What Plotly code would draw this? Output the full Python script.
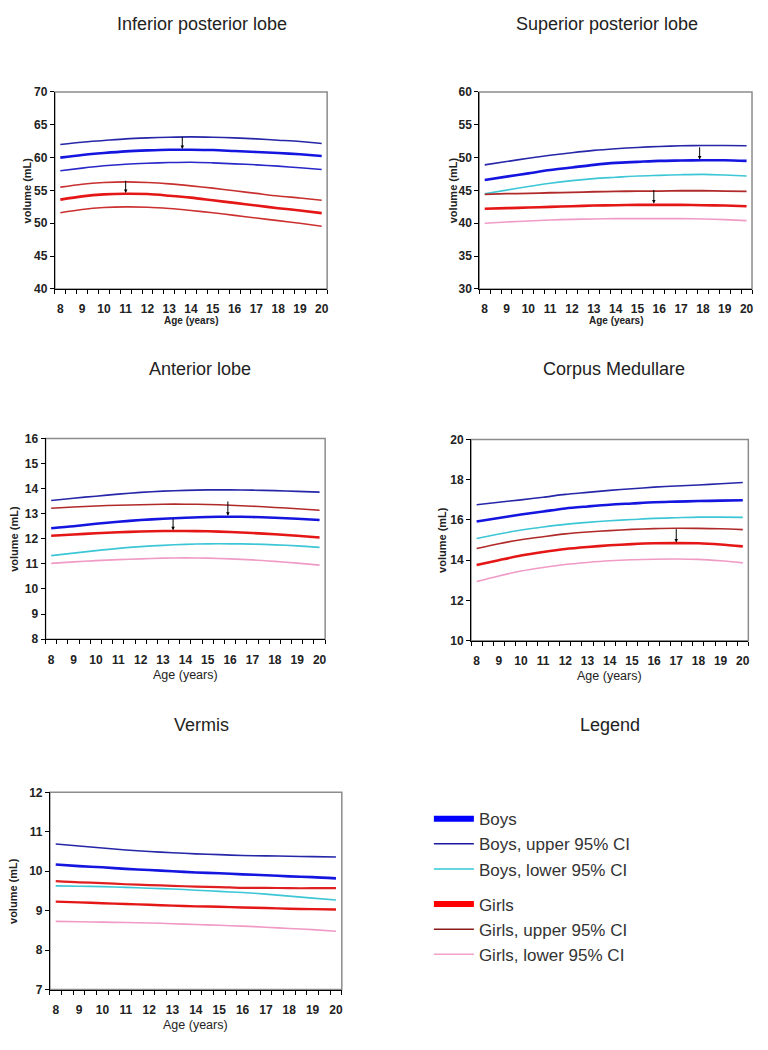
import plotly.graph_objects as go

# ---------------- data ----------------
AGES = [8, 9, 10, 11, 12, 13, 14, 15, 16, 17, 18, 19, 20]

TITLES = ["Inferior posterior lobe", "Superior posterior lobe", "Anterior lobe",
          "Corpus Medullare", "Vermis"]

# Inferior posterior lobe
ipl_boys = [60.0, 60.4, 60.7, 60.95, 61.1, 61.2, 61.2, 61.15, 61.0, 60.85, 60.7, 60.5, 60.25]
ipl_boys_up = [62.0, 62.35, 62.6, 62.85, 63.0, 63.1, 63.15, 63.1, 63.0, 62.85, 62.65, 62.45, 62.15]
ipl_boys_lo = [58.0, 58.4, 58.75, 59.0, 59.15, 59.25, 59.3, 59.2, 59.05, 58.9, 58.7, 58.45, 58.2]
ipl_girls = [53.6, 54.1, 54.4, 54.5, 54.45, 54.2, 53.9, 53.5, 53.1, 52.7, 52.3, 51.95, 51.55]
ipl_girls_up = [55.5, 55.95, 56.2, 56.3, 56.2, 56.0, 55.7, 55.35, 54.95, 54.55, 54.15, 53.85, 53.5]
ipl_girls_lo = [51.6, 52.1, 52.4, 52.5, 52.45, 52.25, 51.95, 51.6, 51.2, 50.8, 50.4, 50.0, 49.55]

# Superior posterior lobe
spl_boys = [46.6, 47.1, 47.6, 48.1, 48.5, 48.9, 49.2, 49.35, 49.5, 49.55, 49.6, 49.6, 49.5]
spl_boys_up = [48.9, 49.4, 49.9, 50.35, 50.75, 51.1, 51.35, 51.55, 51.7, 51.8, 51.85, 51.85, 51.8]
spl_boys_lo = [44.5, 45.05, 45.6, 46.1, 46.5, 46.8, 47.0, 47.2, 47.3, 47.4, 47.45, 47.35, 47.2]
spl_girls = [42.2, 42.3, 42.4, 42.5, 42.6, 42.7, 42.75, 42.8, 42.8, 42.8, 42.75, 42.7, 42.6]
spl_girls_up = [44.4, 44.5, 44.55, 44.65, 44.7, 44.8, 44.85, 44.9, 44.9, 44.95, 44.95, 44.9, 44.85]
spl_girls_lo = [40.0, 40.2, 40.35, 40.5, 40.6, 40.65, 40.7, 40.7, 40.7, 40.7, 40.65, 40.55, 40.4]

# Anterior lobe
al_boys = [12.42, 12.5, 12.6, 12.68, 12.75, 12.8, 12.84, 12.87, 12.88, 12.87, 12.84, 12.8, 12.75]
al_boys_up = [13.53, 13.62, 13.7, 13.78, 13.85, 13.9, 13.93, 13.95, 13.95, 13.94, 13.92, 13.89, 13.86]
al_boys_lo = [11.33, 11.43, 11.53, 11.62, 11.69, 11.74, 11.78, 11.8, 11.8, 11.79, 11.76, 11.72, 11.66]
al_girls = [12.12, 12.17, 12.22, 12.26, 12.29, 12.31, 12.31, 12.3, 12.27, 12.23, 12.18, 12.12, 12.05]
al_girls_up = [13.22, 13.27, 13.31, 13.34, 13.36, 13.38, 13.38, 13.37, 13.34, 13.3, 13.25, 13.2, 13.14]
al_girls_lo = [11.02, 11.08, 11.13, 11.17, 11.2, 11.23, 11.24, 11.23, 11.2, 11.16, 11.1, 11.03, 10.95]

# Corpus Medullare
cm_boys = [15.92, 16.1, 16.27, 16.42, 16.57, 16.67, 16.76, 16.82, 16.88, 16.91, 16.94, 16.96, 16.98]
cm_boys_up = [16.76, 16.88, 17.0, 17.13, 17.27, 17.37, 17.47, 17.55, 17.63, 17.69, 17.74, 17.8, 17.86]
cm_boys_lo = [15.08, 15.3, 15.5, 15.65, 15.78, 15.88, 15.96, 16.02, 16.08, 16.11, 16.14, 16.14, 16.13]
cm_girls = [13.76, 14.0, 14.23, 14.41, 14.56, 14.66, 14.74, 14.8, 14.84, 14.85, 14.84, 14.78, 14.69]
cm_girls_up = [14.58, 14.82, 15.02, 15.17, 15.31, 15.4, 15.47, 15.53, 15.57, 15.59, 15.58, 15.56, 15.52]
cm_girls_lo = [12.94, 13.22, 13.46, 13.64, 13.79, 13.89, 13.97, 14.02, 14.05, 14.06, 14.04, 13.97, 13.87]

# Vermis
v_boys = [10.17, 10.13, 10.1, 10.06, 10.03, 10.0, 9.97, 9.95, 9.92, 9.9, 9.87, 9.85, 9.82]
v_boys_up = [10.69, 10.64, 10.59, 10.54, 10.5, 10.47, 10.44, 10.42, 10.4, 10.39, 10.38, 10.37, 10.36]
v_boys_lo = [9.63, 9.62, 9.61, 9.59, 9.57, 9.55, 9.52, 9.49, 9.46, 9.42, 9.37, 9.32, 9.27]
v_girls = [9.23, 9.21, 9.19, 9.17, 9.15, 9.13, 9.11, 9.1, 9.08, 9.07, 9.05, 9.04, 9.03]
v_girls_up = [9.75, 9.72, 9.7, 9.67, 9.65, 9.63, 9.61, 9.6, 9.58, 9.58, 9.57, 9.57, 9.57]
v_girls_lo = [8.73, 8.72, 8.71, 8.7, 8.69, 8.67, 8.65, 8.63, 8.61, 8.58, 8.55, 8.52, 8.48]

Y_RANGES = [(40, 70), (30, 60), (8, 16), (10, 20), (7, 12)]
Y_DTICK = [5, 5, 1, 2, 1]

# arrows marking the age of peak volume: (panel, age, from, to)
ARROWS = [(0, 13.6, 63.4, 61.3), (0, 11.0, 56.7, 54.6),
          (1, 17.85, 51.8, 49.7), (1, 15.75, 45.3, 43.0),
          (2, 15.9, 13.55, 12.92), (2, 13.45, 12.85, 12.34),
          (3, 17.0, 15.62, 14.88)]

LEGEND_NAMES = ["Boys", "Boys, upper 95% CI", "Boys, lower 95% CI",
                "Girls", "Girls, upper 95% CI", "Girls, lower 95% CI"]

# ---------------- styles ----------------
C_BM, C_BU, C_BL = "#1515E0", "#2626A8", "#3CC6D6"
C_GM, C_GU, C_GL = "#E41616", "#B02A2A", "#F09AC6"

PANELS = [
    [(ipl_boys_up, C_BU, 1.6), (ipl_boys, C_BM, 2.6), (ipl_boys_lo, "#2828C8", 1.6),
     (ipl_girls_up, "#C83030", 1.6), (ipl_girls, C_GM, 2.6), (ipl_girls_lo, "#CC3030", 1.6)],
    [(spl_boys_up, C_BU, 1.6), (spl_boys, C_BM, 2.6), (spl_boys_lo, C_BL, 1.6),
     (spl_girls_up, C_GU, 1.8), (spl_girls, C_GM, 2.6), (spl_girls_lo, C_GL, 1.6)],
    [(al_boys_up, C_BU, 1.6), (al_boys, C_BM, 2.6), (al_boys_lo, C_BL, 1.6),
     (al_girls_up, C_GU, 1.6), (al_girls, C_GM, 2.6), (al_girls_lo, C_GL, 1.6)],
    [(cm_boys_up, C_BU, 1.6), (cm_boys, C_BM, 2.6), (cm_boys_lo, C_BL, 1.6),
     (cm_girls_up, C_GU, 1.6), (cm_girls, C_GM, 2.6), (cm_girls_lo, C_GL, 1.6)],
    [(v_boys_up, C_BU, 1.6), (v_boys, C_BM, 2.6), (v_boys_lo, C_BL, 1.6),
     (v_girls_up, "#E02020", 2.2), (v_girls, C_GM, 2.4), (v_girls_lo, C_GL, 1.6)],
]

# The page has an 8px body margin; keep the figure inside the window (no scrollbars)
OFF = 8
W, H = 752, 1034


def px(p):
    return (p - OFF) / W


def py(p):
    return 1 - (p - OFF) / H


# plot areas in page pixels: left, right, top, bottom
BOXES = [(55, 328, 86, 285.7), (480.5, 754, 86, 285.7), (45.7, 326, 437.3, 640.7),
         (472.3, 750.3, 438.3, 642.3), (50, 342.7, 796, 996)]
TITLE_POS = [(203, 17), (609, 17), (201, 367), (616, 367), (202, 728)]
YTITLE_X = [27, 455, 14, 443, 13]

FONT = "Liberation Sans, Arial, sans-serif"

fig = go.Figure()
annotations = []
shapes = []

for i, (series, box) in enumerate(zip(PANELS, BOXES)):
    n = "" if i == 0 else str(i + 1)
    xa, ya = "x" + n, "y" + n
    for vals, col, wd in series:
        fig.add_trace(go.Scatter(x=AGES, y=vals, mode="lines", xaxis=xa, yaxis=ya,
                                 line=dict(color=col, width=wd, shape="spline", smoothing=0.8),
                                 showlegend=False, hoverinfo="skip"))
    l, r, t, b = box
    fig.layout["xaxis" + n] = dict(
        domain=[px(l), px(r)], range=[7.75, 20.25], anchor=ya,
        tickvals=AGES, ticks="", showline=True, linecolor="black", linewidth=1,
        showgrid=False, zeroline=False, ticklabelstandoff=9,
        tickfont=dict(family=FONT, size=12, color="#222", weight="bold"),
        minor=dict(ticks="outside", tick0=7.75, dtick=0.5, ticklen=4,
                   tickcolor="black", tickwidth=1, showgrid=False))
    y0, y1 = Y_RANGES[i]
    fig.layout["yaxis" + n] = dict(
        domain=[py(b), py(t)], range=[y0, y1], anchor=xa, dtick=Y_DTICK[i],
        ticks="outside", ticklen=4, tickcolor="black", showline=True, linecolor="black",
        linewidth=1, showgrid=False, zeroline=False,
        tickfont=dict(family=FONT, size=12, color="#222", weight="bold"))
    shapes.append(dict(type="rect", xref=xa + " domain", yref=ya + " domain",
                       x0=0, x1=1, y0=0, y1=1, layer="below",
                       line=dict(color="#8c8c8c", width=1.5)))
    # panel title
    tx, ty = TITLE_POS[i]
    annotations.append(dict(text=TITLES[i], x=px(tx), y=py(ty), xref="paper", yref="paper",
                            xanchor="center", yanchor="middle", showarrow=False,
                            font=dict(family=FONT, size=18, color="#222")))
    # axis titles
    cx = (l + r) / 2
    if i < 2:
        annotations.append(dict(text="Age (years)", x=px(cx), y=py(b + 32), xref="paper",
                                yref="paper", xanchor="center", yanchor="middle",
                                showarrow=False,
                                font=dict(family=FONT, size=10, color="#222", weight="bold")))
    else:
        annotations.append(dict(text="Age (years)", x=px(cx), y=py(b + 36), xref="paper",
                                yref="paper", xanchor="center", yanchor="middle",
                                showarrow=False,
                                font=dict(family=FONT, size=12.5, color="#222")))
    annotations.append(dict(text="volume (mL)", x=px(YTITLE_X[i]), y=py((t + b) / 2),
                            xref="paper", yref="paper", xanchor="center", yanchor="middle",
                            showarrow=False, textangle=-90,
                            font=dict(family=FONT, size=11, color="#222", weight="bold")))

for p, ax_x, y_from, y_to in ARROWS:
    n = "" if p == 0 else str(p + 1)
    annotations.append(dict(x=ax_x, y=y_to, ax=ax_x, ay=y_from, xref="x" + n, yref="y" + n,
                            axref="x" + n, ayref="y" + n, text="", showarrow=True,
                            arrowhead=2, arrowsize=0.7, arrowwidth=1, arrowcolor="black"))

annotations.append(dict(text="Legend", x=px(612), y=py(728), xref="paper", yref="paper",
                        xanchor="center", yanchor="middle", showarrow=False,
                        font=dict(family=FONT, size=18, color="#222")))

# legend entries
LEG_STYLE = [("#0000FF", 6), ("#1A1AA0", 1.5), ("#30C8D8", 1.5),
             ("#FF0000", 6), ("#8B1A1A", 1.5), ("#F4A0C8", 1.5)]
for k, (name, (col, wd)) in enumerate(zip(LEGEND_NAMES, LEG_STYLE)):
    fig.add_trace(go.Scatter(x=[None], y=[None], mode="lines", name=name,
                             legendgroup="boys" if k < 3 else "girls",
                             line=dict(color=col, width=wd), showlegend=True))

fig.update_layout(
    width=W, height=H, margin=dict(l=0, r=0, t=0, b=0),
    paper_bgcolor="white", plot_bgcolor="white",
    annotations=annotations, shapes=shapes,
    showlegend=True,
    legend=dict(x=px(430), y=py(805), xanchor="left", yanchor="top",
                font=dict(family=FONT, size=17, color="#333"),
                tracegroupgap=10, traceorder="grouped", bgcolor="rgba(0,0,0,0)",
                itemwidth=40),
)

fig.write_html("out.html")
